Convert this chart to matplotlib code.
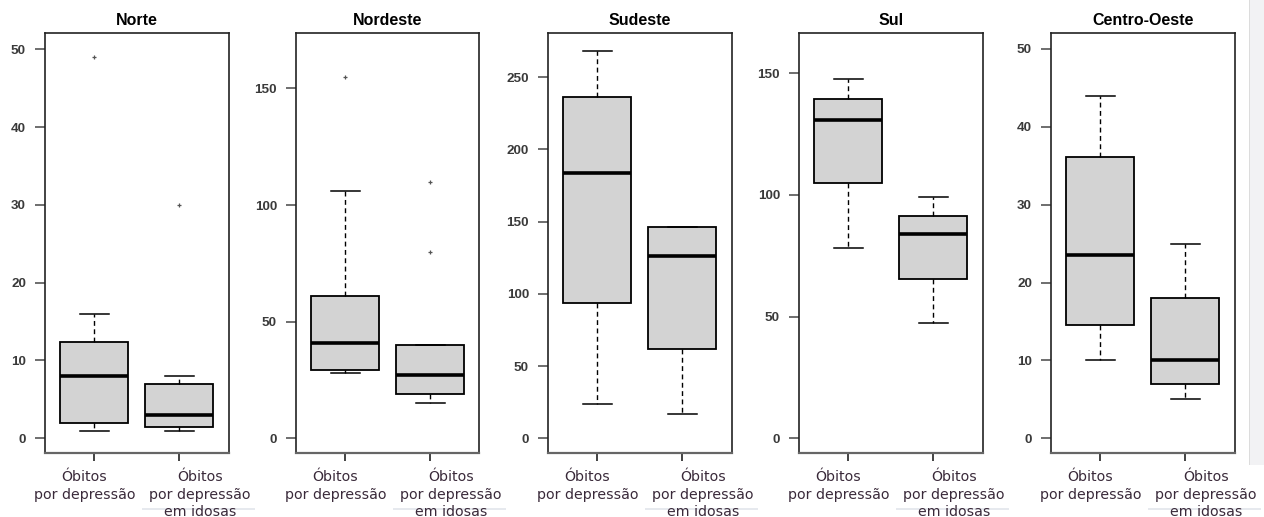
import matplotlib
matplotlib.use("Agg")
import matplotlib.pyplot as plt
from matplotlib.patches import Rectangle
from matplotlib.transforms import ScaledTranslation

# box statistics: (whislo, q1, med, q3, whishi)
regions = ["Norte", "Nordeste", "Sudeste", "Sul", "Centro-Oeste"]

dep_stats = [
    [1, 2, 8, 12.4, 16],
    [28, 29.3, 41, 61, 106],
    [24, 94, 183.5, 236, 268],
    [78, 104.8, 130.8, 139.5, 147.7],
    [10, 14.5, 23.5, 36.1, 44],
]
dep_fliers = [[49], [155], [], [], []]

idosas_stats = [
    [1, 1.5, 3, 7, 8],
    [15, 19, 27, 40, 40],
    [17, 62, 126, 146, 146],
    [47.3, 65.3, 84, 91.4, 99],
    [5, 7, 10, 18, 25],
]
idosas_fliers = [[30], [80, 110], [], [], []]

y_ticks = [
    [0, 10, 20, 30, 40, 50],
    [0, 50, 100, 150],
    [0, 50, 100, 150, 200, 250],
    [0, 50, 100, 150],
    [0, 10, 20, 30, 40, 50],
]
y_limits = [(-1.93, 52.05), (-6.4, 173.6), (-10.4, 280.4), (-6.2, 166.4), (-1.93, 52.0)]

x_labels = ["Óbitos\npor depressão", "Óbitos\npor depressão\nem idosas"]

# panel left edges in pixels
panel_left = [45, 296, 548, 799, 1051]
panel_w = 183.5
W, H = 1264, 517
label_shift = [-10, 21]  # px, the labels sit off their ticks in the original


def make_stats(vals, fliers):
    lo, q1, med, q3, hi = vals
    return {"whislo": lo, "q1": q1, "med": med, "q3": q3, "whishi": hi, "fliers": fliers}


fig = plt.figure(figsize=(W / 100, H / 100), dpi=100)

# light strip at the right edge of the screenshot
fig.add_artist(Rectangle((1250 / W, (H - 465) / H), 14 / W, 465 / H,
                         transform=fig.transFigure, facecolor="#f2f2f4",
                         edgecolor="none"))
fig.add_artist(Rectangle((1249 / W, (H - 465) / H), 1.2 / W, 465 / H,
                         transform=fig.transFigure, facecolor="#dcdcdc",
                         edgecolor="none"))

for i, name in enumerate(regions):
    ax = fig.add_axes([panel_left[i] / W, (H - 453.3) / H, panel_w / W, 420 / H])
    stats = [make_stats(dep_stats[i], dep_fliers[i]),
             make_stats(idosas_stats[i], idosas_fliers[i])]
    ax.bxp(stats, positions=[1, 2], widths=0.8, capwidths=0.34,
           patch_artist=True,
           boxprops=dict(facecolor="#d3d3d3", edgecolor="black", linewidth=1.3),
           medianprops=dict(color="black", linewidth=2.6, solid_capstyle="butt"),
           whiskerprops=dict(color="black", linewidth=1, linestyle=(0, (3.5, 2.5))),
           capprops=dict(color="black", linewidth=1.1),
           flierprops=dict(marker="+", markersize=3.5, markeredgecolor="#555555",
                           markeredgewidth=0.9))
    ax.set_xlim(0.42, 2.58)
    ax.set_ylim(*y_limits[i])
    ax.tick_params(axis="y", length=7.2, width=1.2, pad=6.5, color="#555555")
    ax.tick_params(axis="x", length=6, width=1.2, pad=6, color="#222222")
    ax.set_yticks(y_ticks[i])
    ax.set_yticklabels([str(t) for t in y_ticks[i]], fontsize=9.7, fontweight="bold",
                       color="#3a3a3a", family="Liberation Sans")
    ax.set_xticks([1, 2])
    ax.set_xticklabels(x_labels, fontsize=10.2, color="#3a2a3a",
                       family="DejaVu Sans", linespacing=1.33, va="top")
    # shift after tick_params, which would reset the label transforms
    for lab, dx in zip(ax.get_xticklabels(), label_shift):
        lab.set_transform(lab.get_transform()
                          + ScaledTranslation(dx / 100, 0, fig.dpi_scale_trans))
    for sp in ax.spines.values():
        sp.set_linewidth(1.2)
        sp.set_color("#222222")
    ax.spines["bottom"].set_color("#666666")
    ax.spines["bottom"].set_linewidth(1.6)
    ax.set_title(name, fontsize=11.5, fontweight="bold",
                 family="Liberation Sans", pad=6)

    # faint grey band behind the last label line (screenshot artefact)
    x0 = panel_left[i] + 97
    fig.add_artist(Rectangle((x0 / W, (H - 510) / H), 113 / W, 2.5 / H,
                             transform=fig.transFigure, facecolor="#e6e9ee",
                             edgecolor="none", zorder=0))

fig.savefig("out.png", dpi=100)
